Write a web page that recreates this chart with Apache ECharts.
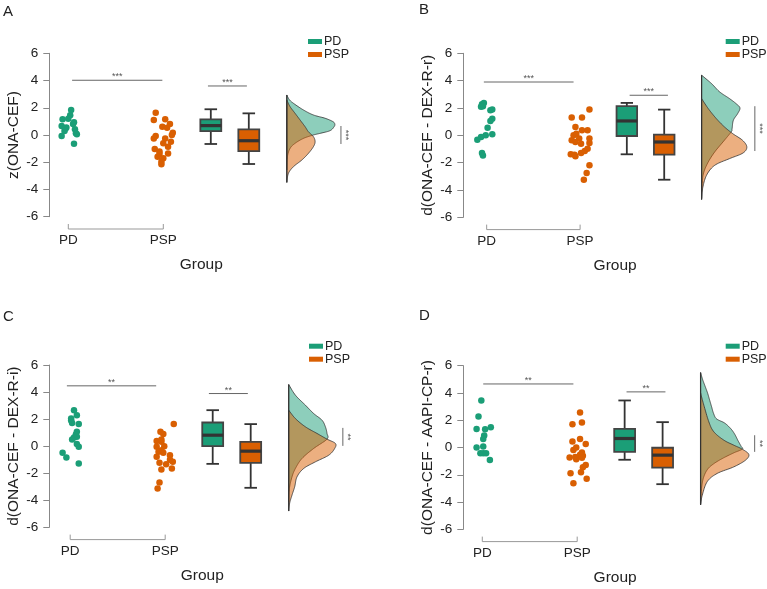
<!DOCTYPE html>
<html lang="en">
<head>
<meta charset="UTF-8">
<title>PD vs PSP raincloud plots</title>
<script src="https://cdn.jsdelivr.net/npm/echarts@6/dist/echarts.min.js"></script>
<style>
  html, body { margin: 0; padding: 0; background: #fff; }
  #chart { width: 767px; height: 589px; }
</style>
</head>
<body>
<div id="chart"></div>
<script>
const groups = ['PD', 'PSP'];
const letters = ['A', 'B', 'C', 'D'];
const yNames = ['z(ONA-CEF)', 'd(ONA-CEF - DEX-R-r)', 'd(ONA-CEF - DEX-R-i)', 'd(ONA-CEF - AAPI-CP-r)'];
const stars = ['***', '***', '**', '**'];

// single subjects: [x jitter, value]
const ptsA_PD = [[0.03,1.84],[0.02,1.45],[-0.06,1.15],[0.0,1.2],[0.06,0.93],[0.05,0.8],[-0.07,0.66],[-0.02,0.55],[-0.03,0.45],[0.07,0.42],[-0.04,0.3],[0.09,0.05],[0.08,0.12],[-0.07,-0.07],[0.06,-0.64]];
const ptsA_PSP = [[-0.08,1.64],[-0.10,1.10],[0.02,1.15],[0.07,0.81],[-0.01,0.61],[0.04,0.54],[0.10,0.17],[0.09,0.0],[-0.08,-0.07],[-0.10,-0.25],[0.02,-0.25],[0.08,-0.49],[0.0,-0.61],[0.05,-0.86],[-0.09,-1.03],[-0.04,-1.22],[0.05,-1.35],[-0.04,-1.40],[-0.06,-1.59],[0.0,-1.71],[-0.02,-1.96],[-0.02,-2.15]];
const ptsB_PD = [[-0.05,2.27],[-0.03,2.37],[-0.04,2.13],[-0.06,2.08],[0.04,1.83],[0.06,1.88],[0.06,1.22],[0.04,1.05],[0.01,0.56],[0.06,0.07],[-0.01,0.0],[-0.06,-0.12],[-0.10,-0.32],[-0.05,-1.3],[-0.04,-1.47]];
const ptsB_PSP = [[0.10,1.88],[-0.09,1.3],[0.02,1.3],[-0.05,0.61],[0.02,0.37],[0.08,0.37],[-0.07,0.0],[-0.04,0.12],[-0.09,-0.37],[-0.01,-0.24],[0.10,-0.24],[-0.05,-0.49],[0.01,-0.61],[0.10,-0.56],[-0.10,-1.39],[-0.05,-1.54],[0.01,-1.3],[0.05,-1.15],[0.08,-0.98],[-0.06,-1.42],[0.10,-2.2],[0.07,-2.76],[0.04,-3.25]];
const ptsC_PD = [[0.04,2.66],[0.07,2.29],[0.01,2.05],[0.01,1.9],[0.02,1.72],[0.09,1.63],[0.07,1.06],[0.06,0.86],[0.07,0.69],[0.04,0.64],[0.02,0.49],[0.07,0.15],[0.09,-0.05],[-0.08,-0.49],[-0.04,-0.84],[0.09,-1.28]];
const ptsC_PSP = [[0.09,1.63],[-0.05,1.06],[-0.02,0.89],[-0.09,0.39],[-0.04,0.32],[-0.04,0.5],[-0.01,0.0],[-0.09,-0.05],[-0.04,-0.3],[-0.07,-0.42],[-0.02,-0.49],[0.05,-0.67],[-0.09,-0.79],[0.05,-1.0],[-0.06,-1.23],[0.01,-1.33],[0.08,-1.16],[0.07,-1.65],[-0.04,-1.72],[-0.06,-2.68],[-0.08,-3.13]];
const ptsD_PD = [[-0.01,3.45],[-0.04,2.27],[-0.06,1.36],[0.03,1.34],[0.09,1.49],[0.02,0.88],[0.01,0.63],[0.01,0.07],[-0.06,0.0],[-0.02,-0.42],[0.01,-0.42],[0.04,-0.42],[0.08,-0.91]];
const ptsD_PSP = [[0.03,2.57],[-0.05,1.71],[0.05,1.83],[-0.05,0.44],[0.03,0.63],[0.09,0.26],[-0.04,-0.18],[-0.01,0.0],[0.05,-0.37],[0.03,-0.54],[-0.08,-0.73],[0.06,-0.61],[-0.01,-0.86],[-0.02,-0.7],[0.05,-0.76],[0.09,-1.28],[0.06,-1.44],[0.04,-1.81],[-0.07,-1.88],[0.10,-2.3],[-0.04,-2.62]];

// box stats: [min, q1, median, q3, max]
const boxA = [[-0.66,0.29,0.69,1.15,1.89],[-2.13,-1.18,-0.42,0.42,1.59]];
const boxB = [[-1.39,-0.05,1.05,2.13,2.37],[-3.25,-1.42,-0.49,0.05,1.88]];
const boxC = [[-1.31,0,0.81,1.75,2.66],[-3.08,-1.23,-0.37,0.32,1.63]];
const boxD = [[-0.9,-0.32,0.66,1.37,3.45],[-2.69,-1.47,-0.56,-0.02,1.86]];

// density curves: [value, density]
const densA_PD = [[2.94,0],[2.6,2.5],[2.33,6.6],[1.84,16.6],[1.47,26.6],[1.23,38.3],[0.98,46.2],[0.8,48],[0.61,47.3],[0.32,43.3],[0.12,33.3],[0,26.6],[-0.25,16.6],[-0.61,8.3],[-0.98,3.3],[-1.6,0.6],[-2.57,0]];
const densA_PSP = [[2.57,0],[2.08,3.3],[1.59,8.3],[1.1,13.3],[0.61,18.3],[0.24,21.6],[-0.12,26.6],[-0.49,28.3],[-0.86,26.6],[-1.35,21.6],[-1.84,15],[-2.33,6.6],[-2.82,1.6],[-3.48,0]];
const densB_PD = [[4.4,0],[3.79,10],[3.18,18.3],[2.69,28.3],[2.32,35],[2.0,39],[1.59,36.7],[1.1,32.3],[0.49,31],[0.24,30],[-0.49,21.7],[-1.22,13.3],[-1.96,6.7],[-2.69,2.3],[-3.42,0.7],[-4.6,0]];
const densB_PSP = [[2.69,0],[1.96,6.7],[1.22,15],[0.61,23.3],[0.12,31.7],[-0.37,41.7],[-0.86,46],[-1.3,42],[-1.71,28.3],[-2.2,13.3],[-2.93,5],[-3.9,1],[-4.7,0]];
const densC_PD = [[4.56,0],[3.77,6.7],[3.03,16.7],[2.41,25],[1.92,33.3],[1.43,36.7],[0.94,38.3],[0.52,38.3],[-0.17,25],[-0.91,13.3],[-1.65,6.7],[-2.27,3.3],[-3.13,0.7],[-4.1,0]];
const densC_PSP = [[2.66,0],[2.04,6.7],[1.43,16.7],[0.94,28.3],[0.52,38.3],[0.2,46.7],[-0.17,46],[-0.67,40],[-1.16,26.7],[-1.65,15],[-2.27,8.3],[-3.0,6],[-3.62,3.3],[-4.2,1],[-4.8,0]];
const densD_PD = [[5.5,0],[5.0,2],[4.5,4.5],[4.0,7],[3.5,9],[3.0,11],[2.5,13],[2.1,16],[1.8,24],[1.4,30],[1.0,34],[0.5,37.5],[0.1,40.5],[-0.12,41.7],[-0.4,33],[-0.8,22],[-1.2,13],[-1.6,7],[-2.2,3],[-3,1],[-4.2,0]];
const densD_PSP = [[4.0,0],[3.1,3.3],[1.88,8.3],[1.15,13.3],[0.54,23.3],[0.17,33.3],[-0.12,41.7],[-0.51,48.3],[-0.93,45],[-1.42,33.3],[-1.9,16.7],[-2.5,6.7],[-3.5,1.7],[-4.2,0]];

// significance bars: [x1, x2, y] and side bar [x, y1, y2]
const sigGroups = [[1.04,1.99,4.02],[0.97,1.93,3.9],[0.965,1.905,4.46],[1.01,1.96,4.66]];
const sigBoxes = [[2.47,2.88,3.6],[2.53,2.94,2.93],[2.46,2.87,3.89],[2.52,2.93,4.08]];
const sigDens = [[3.87,0.66,-0.66],[3.87,2.13,-1.15],[3.87,1.35,0.02],[3.87,0.9,-0.32]];

const points = [[ptsA_PD, ptsA_PSP], [ptsB_PD, ptsB_PSP], [ptsC_PD, ptsC_PSP], [ptsD_PD, ptsD_PSP]];
const boxes = [boxA, boxB, boxC, boxD];
const dens = [[densA_PD, densA_PSP], [densB_PD, densB_PSP], [densC_PD, densC_PSP], [densD_PD, densD_PSP]];

const colors = ['#1b9e77', '#d95f02'];
const fills = ['rgba(27,158,119,0.5)', 'rgba(217,95,2,0.5)'];
const BOX_X = [2.5, 2.9];
const VIOLIN_X = 3.3;
const DSCALE = 1 / 95;
const FONT = '"Liberation Sans", Arial, sans-serif';

// panel placement
const panels = [
    {left: 49.3, top: 53.3, height: 163.4, min: 0.8, unit: 95, letter: [3, 4], legend: [308, 35]},
    {left: 463.3, top: 53.3, height: 164, min: 0.75, unit: 94, letter: [419, 2], legend: [725.7, 35]},
    {left: 49.3, top: 365, height: 162.3, min: 0.78, unit: 95, letter: [3, 309], legend: [309, 339.7]},
    {left: 463.3, top: 365.7, height: 163.6, min: 0.8, unit: 95, letter: [419, 308], legend: [725.7, 339.7]}
];
const X_MAX = 4.0;

// Catmull-Rom resampling of the outline, in pixels (drawing only)
function smoothOutline(pts, steps) {
    const out = [];
    for (let i = 0; i < pts.length - 1; i++) {
        const p0 = pts[i - 1] || pts[i], p1 = pts[i], p2 = pts[i + 1], p3 = pts[i + 2] || pts[i + 1];
        for (let s = 0; s < steps; s++) {
            const t = s / steps, t2 = t * t, t3 = t2 * t;
            out.push([0, 1].map(k => 0.5 * (2 * p1[k] + (p2[k] - p0[k]) * t +
                (2 * p0[k] - 5 * p1[k] + 4 * p2[k] - p3[k]) * t2 +
                (3 * p1[k] - p0[k] - 3 * p2[k] + p3[k]) * t3)));
        }
    }
    out.push(pts[pts.length - 1]);
    return out;
}

function boxRender(p) {
    return function (params, api) {
        const gi = params.dataIndex;
        const x = BOX_X[gi];
        const s = boxes[p][gi];
        const c = s.map(v => api.coord([x, v]));
        const w = api.size([0.22, 0])[0];
        const cap = w * 0.6;
        const ln = {stroke: '#333', lineWidth: 1.8};
        return {
            type: 'group',
            children: [
                {type: 'line', shape: {x1: c[0][0], y1: c[0][1], x2: c[1][0], y2: c[1][1]}, style: ln},
                {type: 'line', shape: {x1: c[3][0], y1: c[3][1], x2: c[4][0], y2: c[4][1]}, style: ln},
                {type: 'line', shape: {x1: c[0][0] - cap / 2, y1: c[0][1], x2: c[0][0] + cap / 2, y2: c[0][1]}, style: ln},
                {type: 'line', shape: {x1: c[4][0] - cap / 2, y1: c[4][1], x2: c[4][0] + cap / 2, y2: c[4][1]}, style: ln},
                {type: 'rect', shape: {x: c[3][0] - w / 2, y: c[3][1], width: w, height: c[1][1] - c[3][1]},
                    style: {fill: colors[gi], stroke: '#444', lineWidth: 1.8}},
                {type: 'line', shape: {x1: c[2][0] - w / 2, y1: c[2][1], x2: c[2][0] + w / 2, y2: c[2][1]},
                    style: {stroke: '#333', lineWidth: 3.2}}
            ]
        };
    };
}

function densRender(p) {
    return function (params, api) {
        const gi = params.dataIndex;
        const d = dens[p][gi];
        const pts = d.map(([y, v]) => api.coord([VIOLIN_X + v * DSCALE, y]));
        const base = pts[0][0];
        const outline = smoothOutline(pts, 10).map(([x, y]) => [Math.max(x, base), y]);
        return {
            type: 'polygon',
            shape: {points: outline},
            style: {fill: fills[gi], stroke: '#333', lineWidth: 0.8}
        };
    };
}

function decoRender(p) {
    return function (params, api) {
        const bottom = api.coord([1, -6])[1];
        const a = api.coord([1, -6])[0];
        const b = api.coord([2, -6])[0];
        const by = bottom + 12.3;
        const axisCol = '#999';
        const sigCol = '#666';
        const g1 = api.coord([sigGroups[p][0], sigGroups[p][2]]);
        const g2 = api.coord([sigGroups[p][1], sigGroups[p][2]]);
        const b1 = api.coord([sigBoxes[p][0], sigBoxes[p][2]]);
        const b2 = api.coord([sigBoxes[p][1], sigBoxes[p][2]]);
        const s1 = api.coord([sigDens[p][0], sigDens[p][1]]);
        const s2 = api.coord([sigDens[p][0], sigDens[p][2]]);
        const all = dens[p][0].concat(dens[p][1]).map(r => r[0]);
        const v1 = api.coord([VIOLIN_X, Math.max.apply(null, all)]);
        const v2 = api.coord([VIOLIN_X, Math.min.apply(null, all)]);
        const starStyle = {text: stars[p], fill: '#555', font: '9px ' + FONT, align: 'center', verticalAlign: 'middle'};
        return {
            type: 'group',
            children: [
                {type: 'polyline', shape: {points: [[a, by - 5], [a, by], [b, by], [b, by - 5]]},
                    style: {stroke: axisCol, lineWidth: 1, fill: null}},
                {type: 'line', shape: {x1: v1[0], y1: v1[1], x2: v2[0], y2: v2[1]}, style: {stroke: '#333', lineWidth: 1.2}},
                {type: 'line', shape: {x1: g1[0], y1: g1[1], x2: g2[0], y2: g2[1]}, style: {stroke: sigCol, lineWidth: 1}},
                {type: 'text', x: (g1[0] + g2[0]) / 2, y: g1[1] - 3.5, style: starStyle},
                {type: 'line', shape: {x1: b1[0], y1: b1[1], x2: b2[0], y2: b2[1]}, style: {stroke: sigCol, lineWidth: 1}},
                {type: 'text', x: (b1[0] + b2[0]) / 2, y: b1[1] - 3.5, style: starStyle},
                {type: 'line', shape: {x1: s1[0], y1: s1[1], x2: s2[0], y2: s2[1]}, style: {stroke: sigCol, lineWidth: 1}},
                {type: 'text', x: s1[0] + 5, y: (s1[1] + s2[1]) / 2, rotation: -Math.PI / 2, style: starStyle}
            ]
        };
    };
}

const grid = [], xAxis = [], yAxis = [], series = [], legend = [], title = [];

panels.forEach((lo, p) => {
    grid.push({left: lo.left, top: lo.top, height: lo.height, width: (X_MAX - lo.min) * lo.unit});
    xAxis.push({
        gridIndex: p, type: 'value', min: lo.min, max: X_MAX, offset: 12,
        axisLine: {show: false}, axisTick: {show: false}, splitLine: {show: false},
        axisLabel: {customValues: [1, 2], formatter: v => groups[Math.round(v) - 1] || '', color: '#222', fontSize: 13.5, margin: 5},
        name: 'Group', nameLocation: 'middle', nameGap: 28,
        nameTextStyle: {fontSize: 15.5, color: '#222'}
    });
    yAxis.push({
        gridIndex: p, type: 'value', min: -6, max: 6, interval: 2,
        axisLine: {show: true, lineStyle: {color: '#888', width: 1}},
        axisTick: {show: true, length: 6, lineStyle: {color: '#888'}},
        axisLabel: {color: '#222', fontSize: 13.5, margin: 11},
        splitLine: {show: false},
        name: yNames[p], nameLocation: 'middle', nameGap: 28,
        nameTextStyle: {fontSize: 15.5, color: '#222'}
    });
    series.push({
        type: 'custom', name: 'density', xAxisIndex: p, yAxisIndex: p, silent: true,
        data: [0, 1], renderItem: densRender(p), z: 1
    });
    series.push({
        type: 'custom', name: 'box', xAxisIndex: p, yAxisIndex: p, silent: true,
        data: [0, 1], renderItem: boxRender(p), z: 2
    });
    groups.forEach((g, gi) => {
        series.push({
            type: 'scatter', name: g, xAxisIndex: p, yAxisIndex: p, silent: true,
            symbolSize: 6.5, itemStyle: {color: colors[gi], opacity: 1},
            data: points[p][gi].map(([j, v]) => [gi + 1 + j, v]), z: 3
        });
    });
    series.push({
        type: 'custom', name: 'deco', xAxisIndex: p, yAxisIndex: p, silent: true,
        data: [0], renderItem: decoRender(p), z: 4
    });
    legend.push({
        data: groups, orient: 'vertical', left: lo.legend[0], top: lo.legend[1],
        padding: 0, itemGap: 0, itemWidth: 14, itemHeight: 5, icon: 'rect',
        selectedMode: false,
        textStyle: {fontSize: 12.5, lineHeight: 12, color: '#222', padding: [0, 0, 0, -3]}
    });
    title.push({
        text: letters[p], left: lo.letter[0], top: lo.letter[1], padding: 0,
        textStyle: {fontSize: 15, fontWeight: 'normal', color: '#222'}
    });
});

const chart = echarts.init(document.getElementById('chart'), null, {renderer: 'canvas'});
chart.setOption({
    animation: false,
    backgroundColor: '#fff',
    textStyle: {fontFamily: FONT},
    title, legend, grid, xAxis, yAxis, series
});
</script>
</body>
</html>
